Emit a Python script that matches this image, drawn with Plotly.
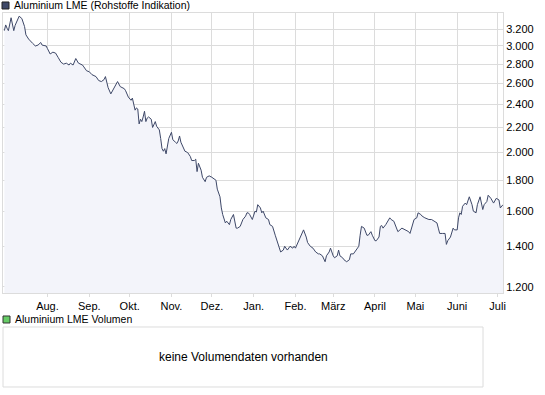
import plotly.graph_objects as go

dates = [
 "2008-06-30","2008-07-01","2008-07-02","2008-07-03","2008-07-05","2008-07-06","2008-07-07","2008-07-08","2008-07-10","2008-07-11",
 "2008-07-13","2008-07-15","2008-07-16","2008-07-18","2008-07-21","2008-07-23","2008-07-25","2008-07-27","2008-07-28","2008-07-31",
 "2008-08-01","2008-08-03","2008-08-05","2008-08-07","2008-08-09","2008-08-11","2008-08-13","2008-08-15","2008-08-17","2008-08-18",
 "2008-08-20","2008-08-22","2008-08-24","2008-08-27","2008-08-28","2008-08-30","2008-09-01","2008-09-03","2008-09-06","2008-09-08",
 "2008-09-10","2008-09-12","2008-09-13","2008-09-15","2008-09-17","2008-09-19","2008-09-21","2008-09-22","2008-09-24","2008-09-27",
 "2008-09-28","2008-09-30","2008-10-02","2008-10-03","2008-10-05","2008-10-06","2008-10-07","2008-10-08","2008-10-09","2008-10-10",
 "2008-10-11","2008-10-12","2008-10-13","2008-10-14","2008-10-15","2008-10-17","2008-10-18","2008-10-19","2008-10-20","2008-10-21",
 "2008-10-23","2008-10-24","2008-10-25","2008-10-26","2008-10-27","2008-10-28","2008-10-29","2008-10-30","2008-11-01","2008-11-02",
 "2008-11-04","2008-11-05","2008-11-06","2008-11-07","2008-11-08","2008-11-10","2008-11-11","2008-11-13","2008-11-15","2008-11-16",
 "2008-11-18","2008-11-19","2008-11-20","2008-11-21","2008-11-22","2008-11-23","2008-11-24","2008-11-26","2008-11-27","2008-11-29",
 "2008-12-01","2008-12-04","2008-12-05","2008-12-07","2008-12-08","2008-12-09","2008-12-11","2008-12-12","2008-12-14","2008-12-15",
 "2008-12-17","2008-12-18","2008-12-19","2008-12-20","2008-12-22","2008-12-24","2008-12-26","2008-12-27","2008-12-28","2008-12-29",
 "2008-12-31","2009-01-02","2009-01-03","2009-01-04","2009-01-06","2009-01-07","2009-01-08","2009-01-10","2009-01-12","2009-01-13",
 "2009-01-15","2009-01-17","2009-01-19","2009-01-21","2009-01-23","2009-01-24","2009-01-26","2009-01-28","2009-01-30","2009-01-31",
 "2009-02-01","2009-02-03","2009-02-05","2009-02-06","2009-02-07","2009-02-09","2009-02-10","2009-02-12","2009-02-14","2009-02-16",
 "2009-02-18","2009-02-19","2009-02-21","2009-02-23","2009-02-24","2009-02-26","2009-02-27","2009-03-01","2009-03-02","2009-03-04",
 "2009-03-05","2009-03-06","2009-03-08","2009-03-09","2009-03-11","2009-03-13","2009-03-14","2009-03-16","2009-03-18","2009-03-20",
 "2009-03-21","2009-03-22","2009-03-24","2009-03-26","2009-03-27","2009-03-29","2009-03-30","2009-04-01","2009-04-02","2009-04-04",
 "2009-04-05","2009-04-06","2009-04-07","2009-04-09","2009-04-12","2009-04-13","2009-04-15","2009-04-17","2009-04-18","2009-04-21",
 "2009-04-23","2009-04-26","2009-04-27","2009-04-29","2009-04-30","2009-05-02","2009-05-03","2009-05-05","2009-05-06","2009-05-08",
 "2009-05-11","2009-05-13","2009-05-15","2009-05-17","2009-05-18","2009-05-19","2009-05-21","2009-05-23","2009-05-24","2009-05-25",
 "2009-05-27","2009-05-29","2009-05-30","2009-06-01","2009-06-02","2009-06-03","2009-06-04","2009-06-05","2009-06-07","2009-06-08",
 "2009-06-10","2009-06-12","2009-06-13","2009-06-15","2009-06-16","2009-06-18","2009-06-20","2009-06-21","2009-06-23","2009-06-24",
 "2009-06-26","2009-06-28","2009-06-30","2009-07-02","2009-07-03","2009-07-05",
]

prices = [
 3180,3250,3210,3180,3340,3230,3180,3245,3320,3360,
 3330,3230,3130,3080,3030,3000,3010,3040,3010,3000,
 2970,2910,2930,2920,2870,2820,2800,2810,2790,2810,
 2790,2860,2810,2790,2770,2730,2720,2690,2670,2630,
 2620,2640,2670,2560,2500,2550,2610,2620,2570,2550,
 2530,2470,2440,2460,2350,2370,2360,2230,2270,2250,
 2290,2340,2250,2280,2290,2270,2200,2230,2250,2210,
 2180,2110,2030,2010,2030,1990,2050,2110,2160,2100,
 2080,2070,2090,2130,2080,2040,2010,2000,1970,1940,
 1940,1950,1860,1920,1900,1870,1820,1790,1820,1830,
 1820,1800,1740,1690,1620,1580,1530,1540,1520,1550,
 1580,1540,1500,1500,1510,1550,1570,1590,1590,1580,
 1550,1600,1595,1640,1620,1590,1600,1560,1550,1520,
 1510,1460,1410,1370,1380,1400,1380,1400,1390,1400,
 1390,1420,1460,1470,1490,1450,1420,1400,1390,1370,
 1360,1360,1350,1320,1350,1370,1390,1350,1340,1350,
 1380,1350,1340,1330,1320,1330,1360,1360,1380,1400,
 1460,1510,1500,1460,1460,1480,1460,1430,1430,1450,
 1510,1515,1500,1520,1560,1550,1540,1500,1480,1500,
 1490,1480,1470,1530,1550,1560,1590,1580,1570,1560,
 1550,1550,1540,1530,1500,1470,1470,1470,1410,1430,
 1450,1500,1490,1490,1560,1590,1580,1630,1650,1640,
 1690,1640,1600,1590,1640,1690,1610,1640,1660,1700,
 1680,1650,1680,1670,1620,1640,
]

y_tick_values = [1200, 1400, 1600, 1800, 2000, 2200, 2400, 2600, 2800, 3000, 3200]
y_tick_labels = ["1.200", "1.400", "1.600", "1.800", "2.000", "2.200", "2.400", "2.600", "2.800", "3.000", "3.200"]
month_ticks = ["2008-08-01","2008-09-01","2008-10-01","2008-11-01","2008-12-01","2009-01-01",
               "2009-02-01","2009-03-01","2009-04-01","2009-05-01","2009-06-01","2009-07-01"]
month_labels = ["Aug.", "Sep.", "Okt.", "Nov.", "Dez.", "Jan.", "Feb.", "März", "April", "Mai", "Juni", "Juli"]

title_text = "Aluminium LME (Rohstoffe Indikation)"
volume_title = "Aluminium LME Volumen"
volume_note = "keine Volumendaten vorhanden"

FONT = "Liberation Sans, Arial, sans-serif"
LINE = "#3e4868"
GRID = "#dcdcdc"

fig = go.Figure()
fig.add_trace(go.Scatter(
    x=dates, y=prices, mode="lines",
    line=dict(color=LINE, width=1),
    fill="tozeroy", fillcolor="#f3f4fa",
    hoverinfo="skip", showlegend=False,
))

fig.update_layout(
    width=545, height=395,
    margin=dict(l=3, r=42, t=13, b=102),
    paper_bgcolor="white", plot_bgcolor="white",
    font=dict(family=FONT, size=11, color="#000000"),
    showlegend=False,
    xaxis=dict(
        type="date", range=["2008-06-29", "2009-07-05"],
        tickvals=month_ticks, ticktext=month_labels,
        showgrid=True, gridcolor=GRID, gridwidth=1,
        showline=True, linecolor=GRID, mirror=True,
        ticks="outside", ticklen=3, tickcolor=GRID,
        tickfont=dict(family=FONT, size=11, color="#000"),
        zeroline=False,
    ),
    yaxis=dict(
        type="log", side="right",
        range=[3.0689, 3.5316],
        tickvals=y_tick_values, ticktext=y_tick_labels,
        showgrid=True, gridcolor=GRID, gridwidth=1,
        showline=True, linecolor=GRID, mirror=True,
        ticks="", tickfont=dict(family=FONT, size=11, color="#000"),
        zeroline=False,
    ),
)

# header legend marker + text
fig.add_shape(type="rect", xref="paper", yref="paper",
              x0=-0.002, x1=0.012, y0=1.0143, y1=1.0393,
              fillcolor="#3e4868", line=dict(color="#222", width=1))
fig.add_annotation(xref="paper", yref="paper", x=0.017, y=1.027, text=title_text,
                   showarrow=False, xanchor="left", yanchor="middle",
                   font=dict(family=FONT, size=10.5, color="#000"))

# volume panel
fig.add_shape(type="rect", xref="paper", yref="paper",
              x0=0.0, x1=0.014, y0=-0.1071, y1=-0.0821,
              fillcolor="#66cc66", line=dict(color="#333", width=1))
fig.add_annotation(xref="paper", yref="paper", x=0.019, y=-0.0946, text=volume_title,
                   showarrow=False, xanchor="left", yanchor="middle",
                   font=dict(family=FONT, size=10.5, color="#000"))
fig.add_shape(type="rect", xref="paper", yref="paper",
              x0=0.0, x1=0.96, y0=-0.3357, y1=-0.1214,
              fillcolor="white", line=dict(color=GRID, width=1))
fig.add_annotation(xref="paper", yref="paper", x=0.48, y=-0.2286, text=volume_note,
                   showarrow=False, xanchor="center", yanchor="middle",
                   font=dict(family=FONT, size=12, color="#000"))

fig.write_html("out.html", config={"displayModeBar": False},
               post_script="document.body.style.margin='0px';document.body.style.overflow='hidden';")
